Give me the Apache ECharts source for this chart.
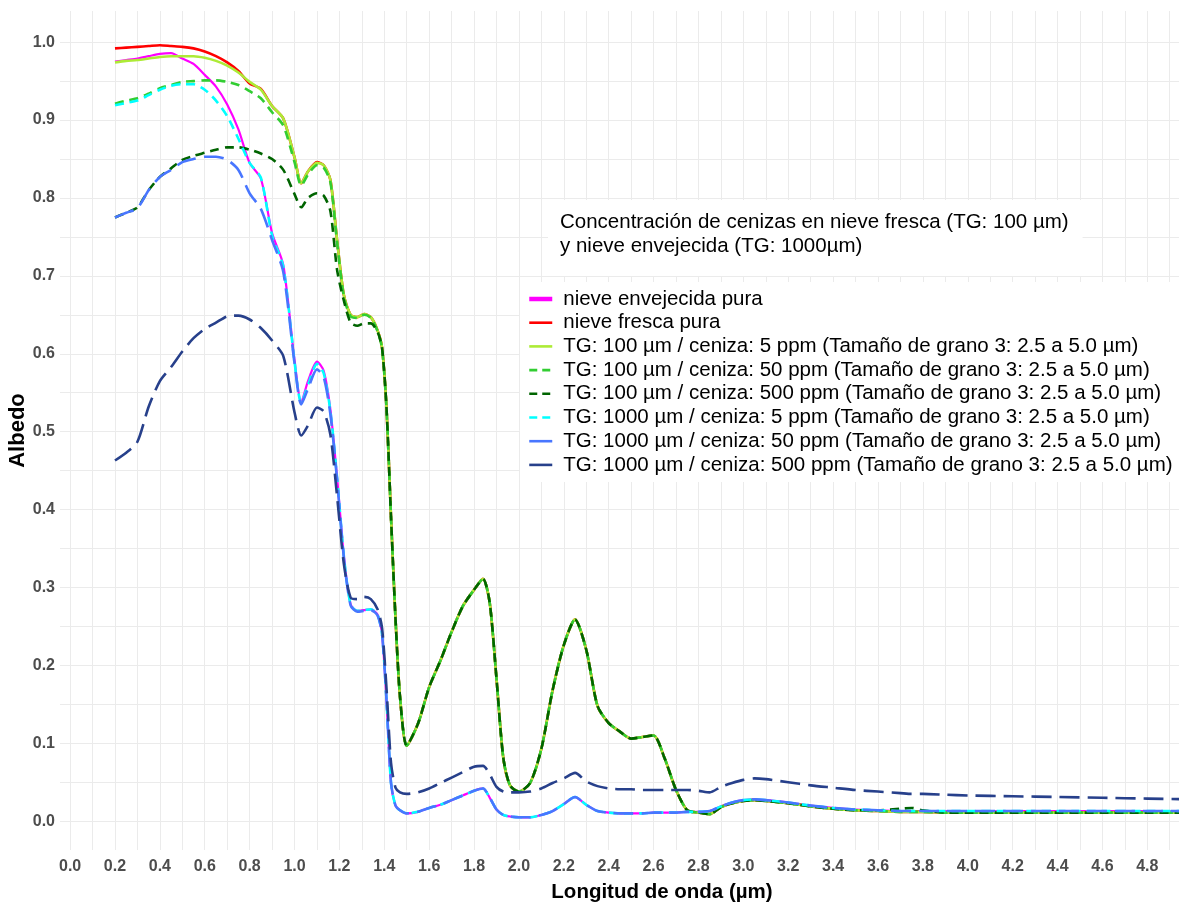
<!DOCTYPE html>
<html>
<head>
<meta charset="utf-8">
<title>Albedo de nieve con cenizas</title>
<script src="https://cdn.jsdelivr.net/npm/echarts@6/dist/echarts.min.js"></script>
<style>
  html, body { margin: 0; padding: 0; background: #fff; }
  #chart { width: 1179px; height: 908px; }
</style>
</head>
<body>
<div id="chart"></div>
<script>
// Longitudes de onda (µm) compartidas por todas las curvas
const wavelength = [
  0.2, 0.25, 0.3, 0.35, 0.4, 0.45, 0.5, 0.55, 0.6, 0.65,
  0.7, 0.75, 0.8, 0.85, 0.9, 0.95, 1.0, 1.03, 1.06, 1.1,
  1.13, 1.16, 1.19, 1.22, 1.25, 1.28, 1.31, 1.34, 1.37, 1.39,
  1.41, 1.43, 1.45, 1.47, 1.5, 1.55, 1.6, 1.65, 1.7, 1.75,
  1.8, 1.84, 1.87, 1.9, 1.93, 1.96, 2.0, 2.05, 2.1, 2.15,
  2.2, 2.25, 2.3, 2.35, 2.4, 2.45, 2.5, 2.55, 2.6, 2.65,
  2.7, 2.75, 2.8, 2.85, 2.9, 2.95, 3.0, 3.05, 3.1, 3.2,
  3.3, 3.4, 3.5, 3.6, 3.7, 3.75, 3.8, 3.9, 4.0, 4.2,
  4.4, 4.6, 4.8, 5.0
];

// Nieve envejecida pura (TG: 1000 µm)
const envejecidaPura = [
  0.975, 0.977, 0.979, 0.982, 0.985, 0.986, 0.979, 0.972, 0.958, 0.943,
  0.920, 0.888, 0.845, 0.825, 0.755, 0.714, 0.592, 0.538, 0.565, 0.590,
  0.578, 0.528, 0.440, 0.340, 0.278, 0.270, 0.271, 0.272, 0.265, 0.240,
  0.155, 0.049, 0.020, 0.014, 0.010, 0.012, 0.017, 0.021, 0.027, 0.033,
  0.039, 0.042, 0.030, 0.015, 0.008, 0.006, 0.005, 0.005, 0.008, 0.013,
  0.022, 0.031, 0.021, 0.013, 0.011, 0.010, 0.010, 0.010, 0.011, 0.011,
  0.011, 0.012, 0.012, 0.013, 0.019, 0.024, 0.027, 0.028, 0.027, 0.024,
  0.020, 0.017, 0.015, 0.014, 0.013, 0.013, 0.013, 0.013, 0.013, 0.013,
  0.013, 0.013, 0.013, 0.013
];

// Nieve fresca pura (TG: 100 µm)
const frescaPura = [
  0.992, 0.993, 0.994, 0.995, 0.996, 0.995, 0.994, 0.992, 0.988, 0.982,
  0.974, 0.963, 0.947, 0.940, 0.918, 0.902, 0.852, 0.819, 0.834, 0.846,
  0.842, 0.823, 0.745, 0.675, 0.650, 0.647, 0.651, 0.647, 0.630, 0.608,
  0.530, 0.390, 0.260, 0.160, 0.097, 0.125, 0.172, 0.206, 0.243, 0.276,
  0.297, 0.311, 0.280, 0.183, 0.082, 0.046, 0.038, 0.049, 0.093, 0.168,
  0.226, 0.259, 0.220, 0.148, 0.126, 0.115, 0.106, 0.108, 0.110, 0.080,
  0.040, 0.014, 0.011, 0.009, 0.018, 0.023, 0.026, 0.027, 0.026, 0.023,
  0.019, 0.016, 0.014, 0.013, 0.012, 0.012, 0.012, 0.011, 0.011, 0.011,
  0.011, 0.011, 0.011, 0.011
];

// TG: 100 µm / ceniza: 5 ppm
const tg100c5 = [
  0.974, 0.976, 0.977, 0.979, 0.981, 0.982, 0.982, 0.982, 0.980, 0.976,
  0.970, 0.961, 0.949, 0.939, 0.918, 0.902, 0.852, 0.819, 0.834, 0.845,
  0.842, 0.823, 0.745, 0.675, 0.650, 0.647, 0.651, 0.647, 0.630, 0.608,
  0.530, 0.390, 0.260, 0.160, 0.097, 0.125, 0.172, 0.206, 0.243, 0.276,
  0.297, 0.311, 0.280, 0.183, 0.082, 0.046, 0.038, 0.049, 0.093, 0.168,
  0.226, 0.259, 0.220, 0.148, 0.126, 0.115, 0.106, 0.108, 0.110, 0.080,
  0.040, 0.014, 0.011, 0.009, 0.018, 0.023, 0.026, 0.027, 0.026, 0.023,
  0.019, 0.016, 0.014, 0.013, 0.012, 0.012, 0.012, 0.011, 0.011, 0.011,
  0.011, 0.011, 0.011, 0.011
];

// TG: 100 µm / ceniza: 50 ppm
const tg100c50 = [
  0.921, 0.925, 0.928, 0.934, 0.941, 0.945, 0.949, 0.950, 0.951, 0.951,
  0.949, 0.945, 0.937, 0.928, 0.910, 0.893, 0.846, 0.816, 0.830, 0.842,
  0.839, 0.820, 0.742, 0.673, 0.648, 0.646, 0.650, 0.646, 0.629, 0.607,
  0.530, 0.390, 0.260, 0.160, 0.097, 0.125, 0.172, 0.206, 0.243, 0.276,
  0.297, 0.311, 0.280, 0.183, 0.082, 0.046, 0.038, 0.049, 0.093, 0.168,
  0.226, 0.259, 0.220, 0.148, 0.126, 0.115, 0.106, 0.108, 0.110, 0.080,
  0.040, 0.014, 0.011, 0.009, 0.018, 0.023, 0.026, 0.027, 0.026, 0.023,
  0.019, 0.016, 0.014, 0.013, 0.012, 0.012, 0.012, 0.011, 0.011, 0.011,
  0.011, 0.011, 0.011, 0.011
];

// TG: 100 µm / ceniza: 500 ppm
const tg100c500 = [
  0.775, 0.781, 0.788, 0.810, 0.827, 0.838, 0.849, 0.854, 0.858, 0.862,
  0.865, 0.865, 0.862, 0.857, 0.850, 0.836, 0.805, 0.788, 0.800, 0.806,
  0.803, 0.783, 0.707, 0.668, 0.640, 0.636, 0.639, 0.639, 0.628, 0.608,
  0.530, 0.390, 0.260, 0.160, 0.097, 0.125, 0.172, 0.206, 0.243, 0.276,
  0.297, 0.311, 0.280, 0.183, 0.082, 0.046, 0.038, 0.049, 0.093, 0.168,
  0.226, 0.259, 0.220, 0.148, 0.126, 0.115, 0.106, 0.108, 0.110, 0.080,
  0.040, 0.014, 0.011, 0.009, 0.018, 0.023, 0.026, 0.027, 0.026, 0.023,
  0.019, 0.016, 0.014, 0.014, 0.016, 0.017, 0.014, 0.011, 0.011, 0.011,
  0.011, 0.011, 0.011, 0.011
];

// TG: 1000 µm / ceniza: 5 ppm
const tg1000c5 = [
  0.919, 0.922, 0.925, 0.932, 0.939, 0.944, 0.946, 0.946, 0.939, 0.925,
  0.905, 0.876, 0.845, 0.826, 0.752, 0.712, 0.590, 0.537, 0.560, 0.587,
  0.575, 0.526, 0.440, 0.340, 0.278, 0.270, 0.271, 0.272, 0.265, 0.240,
  0.155, 0.049, 0.020, 0.014, 0.010, 0.012, 0.017, 0.021, 0.027, 0.033,
  0.039, 0.042, 0.030, 0.015, 0.008, 0.006, 0.005, 0.005, 0.008, 0.013,
  0.022, 0.031, 0.021, 0.013, 0.011, 0.010, 0.010, 0.010, 0.011, 0.011,
  0.011, 0.012, 0.012, 0.013, 0.019, 0.024, 0.027, 0.028, 0.027, 0.024,
  0.020, 0.017, 0.015, 0.014, 0.013, 0.013, 0.013, 0.013, 0.013, 0.013,
  0.013, 0.013, 0.013, 0.013
];

// TG: 1000 µm / ceniza: 50 ppm
const tg1000c50 = [
  0.775, 0.781, 0.787, 0.810, 0.827, 0.836, 0.846, 0.850, 0.853, 0.853,
  0.849, 0.836, 0.806, 0.786, 0.746, 0.705, 0.588, 0.535, 0.555, 0.580,
  0.570, 0.522, 0.437, 0.338, 0.277, 0.269, 0.270, 0.271, 0.264, 0.240,
  0.155, 0.049, 0.020, 0.014, 0.010, 0.012, 0.017, 0.021, 0.027, 0.033,
  0.039, 0.042, 0.030, 0.015, 0.008, 0.006, 0.005, 0.005, 0.008, 0.013,
  0.022, 0.031, 0.021, 0.013, 0.011, 0.010, 0.010, 0.010, 0.011, 0.011,
  0.011, 0.012, 0.012, 0.013, 0.019, 0.024, 0.027, 0.028, 0.027, 0.024,
  0.020, 0.017, 0.015, 0.014, 0.013, 0.013, 0.013, 0.013, 0.013, 0.013,
  0.013, 0.013, 0.013, 0.013
];

// TG: 1000 µm / ceniza: 500 ppm
const tg1000c500 = [
  0.463, 0.473, 0.487, 0.532, 0.565, 0.583, 0.603, 0.620, 0.632, 0.640,
  0.648, 0.649, 0.644, 0.633, 0.617, 0.597, 0.525, 0.495, 0.508, 0.531,
  0.526, 0.496, 0.416, 0.330, 0.287, 0.285, 0.288, 0.285, 0.272, 0.248,
  0.170, 0.075, 0.043, 0.037, 0.035, 0.037, 0.042, 0.049, 0.056, 0.063,
  0.070, 0.071, 0.060, 0.044, 0.038, 0.037, 0.037, 0.038, 0.042, 0.049,
  0.055, 0.062, 0.051, 0.045, 0.042, 0.041, 0.041, 0.040, 0.040, 0.040,
  0.040, 0.040, 0.039, 0.037, 0.044, 0.049, 0.053, 0.055, 0.054, 0.050,
  0.046, 0.043, 0.040, 0.038, 0.036, 0.035, 0.035, 0.034, 0.033, 0.032,
  0.031, 0.030, 0.029, 0.028
];

// Ticks y rejilla
const xLabelValues = [0, 0.2, 0.4, 0.6, 0.8, 1.0, 1.2, 1.4, 1.6, 1.8, 2.0, 2.2, 2.4,
  2.6, 2.8, 3.0, 3.2, 3.4, 3.6, 3.8, 4.0, 4.2, 4.4, 4.6, 4.8];
const xGridValues = [0, 0.1, 0.2, 0.3, 0.4, 0.5, 0.6, 0.7, 0.8, 0.9, 1.0, 1.1, 1.2,
  1.3, 1.4, 1.5, 1.6, 1.7, 1.8, 1.9, 2.0, 2.1, 2.2, 2.3, 2.4, 2.5, 2.6, 2.7, 2.8,
  2.9, 3.0, 3.1, 3.2, 3.3, 3.4, 3.5, 3.6, 3.7, 3.8, 3.9, 4.0, 4.1, 4.2, 4.3, 4.4,
  4.5, 4.6, 4.7, 4.8, 4.9, 5.0, 5.1, 5.2];
const yLabelValues = [0, 0.1, 0.2, 0.3, 0.4, 0.5, 0.6, 0.7, 0.8, 0.9, 1.0];
const yGridValues = [0, 0.05, 0.1, 0.15, 0.2, 0.25, 0.3, 0.35, 0.4, 0.45, 0.5, 0.55,
  0.6, 0.65, 0.7, 0.75, 0.8, 0.85, 0.9, 0.95, 1.0];

const legendTitle = 'Concentración de cenizas en nieve fresca (TG: 100 µm)\ny nieve envejecida (TG: 1000µm)';

const FONT = '"Liberation Sans", Arial, sans-serif';
const DASHED = [9, 6];
const LONGDASH = [20, 8];

const curves = [
  { name: 'nieve envejecida pura', values: envejecidaPura, color: '#ff00ff', width: 2.2, dash: 'solid', key: 'solid', keyWidth: 4.5 },
  { name: 'nieve fresca pura', values: frescaPura, color: '#ff0000', width: 2.6, dash: 'solid', key: 'solid', keyWidth: 2.6 },
  { name: 'TG: 100 µm / ceniza: 5 ppm (Tamaño de grano 3: 2.5 a 5.0 µm)', values: tg100c5, color: '#adeb36', width: 2.6, dash: 'solid', key: 'solid', keyWidth: 2.6 },
  { name: 'TG: 100 µm / ceniza: 50 ppm (Tamaño de grano 3: 2.5 a 5.0 µm)', values: tg100c50, color: '#32cd32', width: 2.6, dash: DASHED, key: [8, 5], keyWidth: 2.6 },
  { name: 'TG: 100 µm / ceniza: 500 ppm (Tamaño de grano 3: 2.5 a 5.0 µm)', values: tg100c500, color: '#006400', width: 2.6, dash: DASHED, key: [8, 5], keyWidth: 2.6 },
  { name: 'TG: 1000 µm / ceniza: 5 ppm (Tamaño de grano 3: 2.5 a 5.0 µm)', values: tg1000c5, color: '#00ffff', width: 2.6, dash: DASHED, key: [8, 5], keyWidth: 2.6 },
  { name: 'TG: 1000 µm / ceniza: 50 ppm (Tamaño de grano 3: 2.5 a 5.0 µm)', values: tg1000c50, color: '#4876ff', width: 2.6, dash: LONGDASH, key: 'solid', keyWidth: 2.6 },
  { name: 'TG: 1000 µm / ceniza: 500 ppm (Tamaño de grano 3: 2.5 a 5.0 µm)', values: tg1000c500, color: '#27408b', width: 2.6, dash: LONGDASH, key: 'solid', keyWidth: 2.6 }
];

const chart = echarts.init(document.getElementById('chart'), null, { renderer: 'canvas' });

const gridLine = { show: true, lineStyle: { color: '#ebebeb', width: 1, type: 'solid' } };

const option = {
  animation: false,
  backgroundColor: '#ffffff',
  textStyle: { fontFamily: FONT },
  grid: { left: 60, right: -85, top: 11, bottom: 58, containLabel: false, outerBoundsMode: 'none' },
  // fondo blanco del bloque de leyenda a la derecha del título
  graphic: [{
    type: 'rect',
    right: 0,
    top: 200,
    shape: { width: 97, height: 35 },
    style: { fill: '#ffffff' },
    silent: true,
    z: 0
  }],
  title: {
    text: legendTitle,
    left: 548,
    top: 200,
    padding: [10, 14, 18, 12],
    backgroundColor: '#ffffff',
    textStyle: { fontFamily: FONT, fontWeight: 'normal', fontSize: 20.5, lineHeight: 24, color: '#000000' }
  },
  legend: {
    orient: 'vertical',
    left: 520,
    top: 282,
    padding: [6, 7, 6, 7],
    backgroundColor: '#ffffff',
    itemWidth: 23,
    itemHeight: 14,
    itemGap: 1.7,
    selectedMode: false,
    itemStyle: { color: 'rgba(0,0,0,0)', borderColor: 'rgba(0,0,0,0)', borderWidth: 0 },
    textStyle: { fontFamily: FONT, fontSize: 20.5, lineHeight: 22, color: '#000000', padding: [0, 0, 0, 6] },
    data: curves.map(c => ({
      name: c.name,
      lineStyle: { color: c.color, width: c.keyWidth, type: c.key }
    }))
  },
  xAxis: {
    type: 'value',
    min: -0.045,
    max: 5.32,
    axisLine: { show: false },
    axisTick: { show: false, customValues: xGridValues },
    axisLabel: {
      customValues: xLabelValues,
      formatter: v => v.toFixed(1),
      fontFamily: FONT, fontWeight: 'bold', fontSize: 16, color: '#4d4d4d', margin: 9
    },
    splitLine: gridLine,
    name: 'Longitud de onda (µm)',
    nameLocation: 'middle',
    nameGap: 32,
    nameMoveOverlap: false,
    nameTextStyle: { fontFamily: FONT, fontWeight: 'bold', fontSize: 20.5, color: '#000000' }
  },
  yAxis: {
    type: 'value',
    min: -0.037,
    max: 1.04,
    axisLine: { show: false },
    axisTick: { show: false, customValues: yGridValues },
    axisLabel: {
      customValues: yLabelValues,
      formatter: v => v.toFixed(1),
      fontFamily: FONT, fontWeight: 'bold', fontSize: 16, color: '#4d4d4d', margin: 5
    },
    splitLine: gridLine,
    name: 'Albedo',
    nameLocation: 'middle',
    nameGap: 31,
    nameMoveOverlap: false,
    nameRotate: 90,
    nameTextStyle: { fontFamily: FONT, fontWeight: 'bold', fontSize: 22, color: '#000000' }
  },
  series: curves.map(c => ({
    name: c.name,
    type: 'line',
    data: wavelength.map((w, i) => [w, c.values[i]]),
    showSymbol: false,
    symbol: 'none',
    smooth: 0.25,
    clip: true,
    silent: true,
    lineStyle: { color: c.color, width: c.width, type: c.dash, cap: 'butt', join: 'round' },
    itemStyle: { color: c.color }
  }))
};

chart.setOption(option);
</script>
</body>
</html>
